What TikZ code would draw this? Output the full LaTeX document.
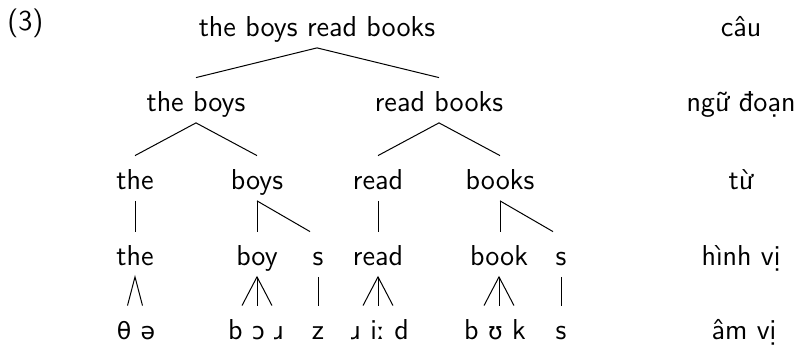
\documentclass[tikz,border=0pt]{standalone}
\usepackage{fontspec}
\newfontfamily\ipafont{DejaVu Sans}[Scale=0.82]
\newcommand{\ipa}[1]{{\ipafont #1}}
\begin{document}
\begin{tikzpicture}[x=0.5pt,y=-0.5pt,
  every node/.style={font=\sffamily\fontsize{14.4}{17}\selectfont, inner sep=0pt},
  lbl/.style={anchor=base, text height=17pt, text depth=5.25pt},
  branch/.style={line width=0.5pt}]
\useasboundingbox (0,0) rectangle (800,346);

% example number
\node[anchor=base west] (ex) at (7,31) {(3)};

% sentence and phrases
\node[lbl] (s)  at (317,37)  {the boys read books};
\node[lbl] (np) at (196,112) {the boys};
\node[lbl] (vp) at (439,112) {read books};

% words
\node[lbl] (w1) at (135,190) {the};
\node[lbl] (w2) at (257,190) {boys};
\node[lbl] (w3) at (378,190) {read};
\node[lbl] (w4) at (500,190) {books};

% morphemes
\node[lbl] (m1) at (135,266) {the};
\node[lbl] (m2) at (257,266) {boy};
\node[lbl] (m3) at (318,266) {s};
\node[lbl] (m4) at (378,266) {read};
\node[lbl] (m5) at (499,266) {book};
\node[lbl] (m6) at (561,266) {s};

% phonemes
\node[lbl] (p1) at (136,340) {\ipa{θ} \ipa{ə}};
\node[lbl] (p2) at (256,340) {b \ipa{ɔ} \ipa{ɹ}};
\node[lbl] (p3) at (318,340) {z};
\node[lbl] (p4) at (380,340) {\ipa{ɹ} i\ipa{ː} d};
\node[lbl] (p5) at (495,340) {b \ipa{ʊ} k};
\node[lbl] (p6) at (561,340) {s};

% level names
\node[lbl] (l1) at (741,37)  {câu};
\node[lbl] (l2) at (741,112) {ngữ đoạn};
\node[lbl] (l3) at (741,190) {từ};
\node[lbl] (l4) at (741,266) {hình vị};
\node[lbl] (l5) at (744,340) {âm vị};

% sentence -> phrases
\draw[branch] (s.south) -- (np.north);
\draw[branch] (s.south) -- (vp.north);
% phrases -> words
\draw[branch] (np.south) -- (w1.north);
\draw[branch] (np.south) -- (w2.north);
\draw[branch] (vp.south) -- (w3.north);
\draw[branch] (vp.south) -- (w4.north);
% words -> morphemes
\draw[branch] (w1.south) -- (w1.south |- m1.north);
\draw[branch] (w2.south) -- (w2.south |- m2.north);
\draw[branch] (w2.south) -- ([xshift=-4pt]m3.north);
\draw[branch] (w3.south) -- (w3.south |- m4.north);
\draw[branch] (w4.south) -- (w4.south |- m5.north);
\draw[branch] (w4.south) -- ([xshift=-4pt]m6.north);
% morphemes -> phonemes
\draw[branch] ([xshift=-3.75pt]m1.south |- p1.north) -- (m1.south) -- ([xshift=3.75pt]m1.south |- p1.north);
\draw[branch] ([xshift=-7.5pt]m2.south |- p2.north) -- (m2.south) -- ([xshift=7.5pt]m2.south |- p2.north);
\draw[branch] (m2.south) -- (m2.south |- p2.north);
\draw[branch] (m3.south) -- (m3.south |- p3.north);
\draw[branch] ([xshift=-7.5pt]m4.south |- p4.north) -- (m4.south) -- ([xshift=7.5pt]m4.south |- p4.north);
\draw[branch] (m4.south) -- (m4.south |- p4.north);
\draw[branch] ([xshift=-7.5pt]m5.south |- p5.north) -- (m5.south) -- ([xshift=7.5pt]m5.south |- p5.north);
\draw[branch] (m5.south) -- (m5.south |- p5.north);
\draw[branch] (m6.south) -- (m6.south |- p6.north);
\end{tikzpicture}
\end{document}
